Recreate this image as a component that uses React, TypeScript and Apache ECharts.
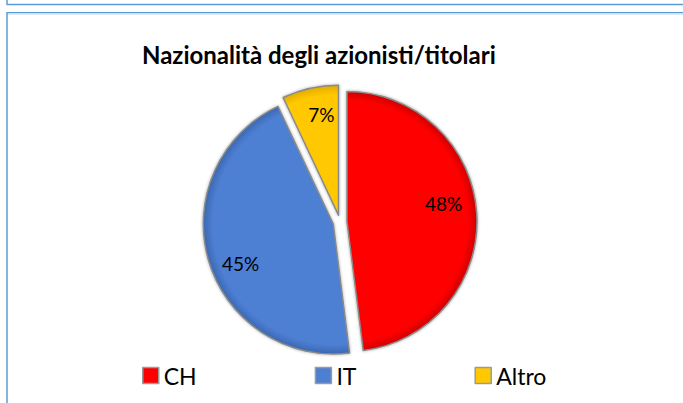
import React, { useEffect, useRef } from "react";
import * as echarts from "echarts";

const categories = ["CH", "IT", "Altro"];
const values = [48, 45, 7];
const sliceColors = ["#ff0000", "#4d7fd3", "#ffc800"];
const edgeColors = ["#c00000", "#3561a8", "#d9a400"];
const titleText = "Nazionalità degli azionisti/titolari";

export default function App() {
  const ref = useRef<HTMLDivElement>(null);
  useEffect(() => {
    const chart = echarts.init(ref.current as HTMLDivElement, null, { renderer: "svg" });
    const cx = 340;
    const cy = 222;
    const R = 130;
    const grad = (c: string, d: string) => ({
      type: "radial",
      x: cx,
      y: cy,
      r: R + 7,
      global: true,
      colorStops: [
        { offset: 0, color: c },
        { offset: 0.88, color: c },
        { offset: 0.97, color: d },
        { offset: 1, color: d },
      ],
    });
    const mainData = categories.map((name, i) => {
      const st = {
        color: grad(sliceColors[i], edgeColors[i]),
        borderColor: "#8a8a8a",
        borderWidth: 1.5,
        shadowBlur: 3,
        shadowColor: "rgba(0,0,0,0.35)",
      };
      return { name, value: values[i], selected: true, itemStyle: st, select: { itemStyle: st } };
    });
    const labelData = categories.map((name, i) => ({
      name,
      value: values[i],
      selected: true,
      itemStyle: { color: "rgba(0,0,0,0)" },
      select: { itemStyle: { color: "rgba(0,0,0,0)" } },
    }));
    const labelShift = [
      [-5, -12],
      [5, 11],
      [5, -1],
    ];
    const lineBlue = "#5b9bd5";
    chart.setOption({
      animation: false,
      backgroundColor: "#ffffff",
      title: {
        text: titleText,
        left: 137,
        top: 37,
        textStyle: { fontFamily: "Lato", fontWeight: "bold", fontSize: 24, color: "#000" },
      },
      legend: {
        left: 137,
        top: 359,
        icon: "rect",
        itemWidth: 16,
        itemHeight: 16,
        itemGap: 118,
        textStyle: { fontFamily: "Lato", fontSize: 23, color: "#000" },
        data: categories.map((name, i) => ({
          name,
          itemStyle: { color: sliceColors[i], borderColor: "#9a9a9a", borderWidth: 1.5 },
        })),
      },
      graphic: [
        { type: "line", shape: { x1: 7, y1: 4.5, x2: 683, y2: 4.5 }, style: { stroke: lineBlue, lineWidth: 1.5 } },
        { type: "line", shape: { x1: 7, y1: 0, x2: 7, y2: 5 }, style: { stroke: lineBlue, lineWidth: 1.5 } },
        { type: "line", shape: { x1: 7, y1: 12.5, x2: 683, y2: 12.5 }, style: { stroke: lineBlue, lineWidth: 1.2 } },
        { type: "line", shape: { x1: 7, y1: 13.8, x2: 683, y2: 13.8 }, style: { stroke: "#bdd7ee", lineWidth: 1.2 } },
        { type: "line", shape: { x1: 7, y1: 12, x2: 7, y2: 403 }, style: { stroke: lineBlue, lineWidth: 1.5 } },
      ],
      series: [
        {
          type: "pie",
          center: [cx, cy],
          radius: [0, R],
          startAngle: 90,
          clockwise: true,
          selectedMode: "multiple",
          selectedOffset: 7,
          label: { show: false },
          labelLine: { show: false },
          emphasis: { disabled: true },
          silent: true,
          data: mainData,
        },
        {
          type: "pie",
          center: [cx, cy],
          radius: [R * 0.52, R],
          startAngle: 90,
          clockwise: true,
          selectedMode: "multiple",
          selectedOffset: 7,
          silent: true,
          emphasis: { disabled: true },
          label: {
            show: true,
            position: "inside",
            formatter: "{c}%",
            fontFamily: "Lato",
            fontSize: 19,
            color: "#000",
          },
          labelLayout: (p: any) => ({ dx: labelShift[p.dataIndex][0], dy: labelShift[p.dataIndex][1] }),
          labelLine: { show: false },
          data: labelData,
        },
      ],
    });
    return () => chart.dispose();
  }, []);
  return (
    <div
      ref={ref}
      style={{ position: "absolute", left: 0, top: 0, width: 683, height: 403, background: "#fff" }}
    />
  );
}
